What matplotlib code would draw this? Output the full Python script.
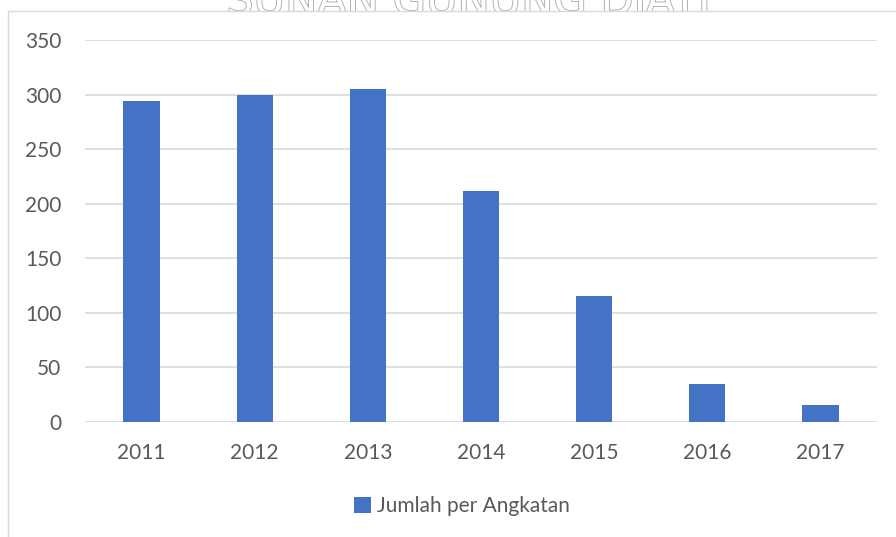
import matplotlib
matplotlib.use("Agg")
import matplotlib.pyplot as plt
import matplotlib.patheffects as pe
from matplotlib.patches import Rectangle, Patch

# data
years = ["2011", "2012", "2013", "2014", "2015", "2016", "2017"]
jumlah = [294, 300, 305, 212, 115, 35, 16]
series_name = "Jumlah per Angkatan"

W, H = 896, 537
fig = plt.figure(figsize=(W / 100, H / 100), dpi=100)
fig.patch.set_facecolor("white")
plt.rcParams["font.family"] = ["Lato", "DejaVu Sans"]

# watermark text half hidden behind the chart frame
fig.text(468 / W, 1 - 2 / H, "SUNAN GUNUNG DJATI", ha="center", va="center",
         fontsize=31, color="white", family="DejaVu Sans", zorder=-3,
         path_effects=[pe.withStroke(linewidth=1.2, foreground="#a6a6a6")])
fig.patches.append(Rectangle((8 / W, -0.1), 1.0, 1 - 11 / H + 0.1,
                             transform=fig.transFigure, facecolor="white",
                             edgecolor="#d9d9d9", linewidth=1, zorder=-2))

ax = fig.add_axes([85 / W, 1 - 422 / H, (877 - 85) / W, (422 - 40) / H])
ax.set_facecolor("none")
x = range(len(years))
ax.bar(x, jumlah, width=0.32, color="#4472c4", zorder=3)

ax.set_xlim(-0.5, len(years) - 0.5)
ax.set_ylim(0, 350)
ax.set_yticks(range(0, 351, 50))
ax.set_xticks(list(x))
ax.set_xticklabels(years)
ax.yaxis.grid(True, color="#d9d9d9", linewidth=1.2, zorder=0)
ax.set_axisbelow(True)
for s in ax.spines.values():
    s.set_visible(False)
ax.tick_params(length=0, labelsize=15, labelcolor="#595959")
ax.tick_params(axis="y", pad=17)
ax.tick_params(axis="x", pad=15)

fig.legend(handles=[Patch(facecolor="#4472c4", label=series_name)],
           loc="center", bbox_to_anchor=(462 / W, 1 - 506 / H), frameon=False,
           fontsize=15, labelcolor="#595959", handlelength=0.8,
           handleheight=0.8, handletextpad=0.3)

fig.savefig("out.png", dpi=100)
